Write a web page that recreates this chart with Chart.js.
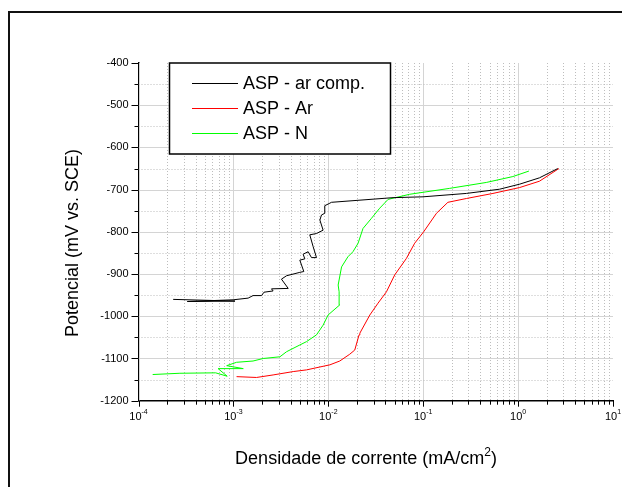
<!DOCTYPE html>
<html>
<head>
<meta charset="utf-8">
<script src="https://cdn.jsdelivr.net/npm/chart.js@4/dist/chart.umd.min.js"></script>
<style>
  html, body { margin: 0; padding: 0; background: #fff; }
</style>
</head>
<body>
<canvas id="chart" width="622" height="487"></canvas>
<script>
// Series labels and colours
const seriesNames = ["ASP - ar comp.", "ASP - Ar", "ASP - N"];
const seriesColors = ["#000000", "#ff0000", "#00ff00"];

// ASP - ar comp. (current density mA/cm2, potential mV)
const arCompX = [2.32e-4, 1.04e-3, 3.27e-4, 9.95e-4, 1.43e-3, 1.61e-3, 1.98e-3, 2.10e-3, 2.62e-3, 2.52e-3,
  3.78e-3, 3.21e-3, 3.63e-3, 5.01e-3, 5.52e-3, 5.01e-3, 5.66e-3, 5.43e-3, 6.13e-3, 6.65e-3,
  7.51e-3, 6.92e-3, 6.38e-3, 7.51e-3, 8.82e-3, 8.15e-3, 8.48e-3, 9.18e-3, 9.18e-3, 1.02e-2,
  1.08e-2, 4.81e-2, 9.95e-2, 0.285, 0.638, 1.04, 1.68, 2.62];
const arCompY = [-960, -964, -965, -961, -957, -951, -951, -943, -940, -935,
  -934, -912, -904, -896, -894, -867, -864, -853, -847, -861,
  -861, -835, -807, -804, -796, -772, -760, -756, -738, -733,
  -730, -719, -717, -709, -699, -687, -672, -650];

// ASP - Ar
const arX = [1.08e-3, 1.75e-3, 2.62e-3, 4.27e-3, 5.9e-3, 1.04e-2, 1.32e-2, 1.68e-2, 1.9e-2, 2.11e-2,
  2.15e-2, 2.74e-2, 3.34e-2, 4.1e-2, 5.01e-2, 6.65e-2, 8.13e-2, 0.101, 0.138, 0.182,
  0.285, 0.543, 1.04, 1.68, 2.69];
const arY = [-1143, -1145, -1139, -1131, -1127, -1115, -1106, -1090, -1080, -1044,
  -1040, -997, -969, -942, -902, -863, -827, -800, -756, -730,
  -721, -709, -695, -680, -650];

// ASP - N
const nX = [1.41e-4, 2.73e-4, 6.5e-4, 8.6e-4, 6.9e-4, 1.27e-3, 8.5e-4, 1.08e-3, 1.61e-3, 2.06e-3,
  3.09e-3, 3.63e-3, 5.01e-3, 5.9e-3, 7.51e-3, 8.82e-3, 9.95e-3, 1.32e-2, 1.30e-2, 1.27e-2,
  1.38e-2, 1.61e-2, 1.82e-2, 2.06e-2, 2.32e-2, 2.85e-2, 3.48e-2, 4.27e-2, 7.21e-2, 0.19,
  0.462, 0.881, 1.30];
const nY = [-1138, -1135, -1134, -1142, -1124, -1124, -1117, -1109, -1106, -1100,
  -1096, -1084, -1068, -1060, -1044, -1021, -997, -973, -942, -926,
  -883, -859, -847, -827, -792, -768, -744, -723, -711, -697,
  -683, -669, -656];

// Axis ranges and tick labels
const xMin = 1e-4, xMax = 10;
const yMin = -1200, yMax = -400;
const xDecades = [-4, -3, -2, -1, 0, 1];
const xTitle = "Densidade de corrente (mA/cm";
const yTitle = "Potencial (mV vs. SCE)";

const toPoints = (xs, ys) => xs.map((v, i) => ({ x: v, y: ys[i] }));
const seriesData = [toPoints(arCompX, arCompY), toPoints(arX, arY), toPoints(nX, nY)];

const FONT = "'Liberation Sans', Arial, sans-serif";

const extras = {
  id: "extras",
  beforeDraw(chart) {
    const ctx = chart.ctx;
    ctx.save();
    ctx.fillStyle = "#fff";
    ctx.fillRect(0, 0, chart.width, chart.height);
    ctx.strokeStyle = "#111";
    ctx.lineWidth = 2;
    ctx.strokeRect(9, 12, chart.width + 20, chart.height + 20);
    ctx.restore();
  },
  beforeDatasetsDraw(chart) {
    const { ctx, chartArea: a, scales: { x, y } } = chart;
    ctx.save();
    ctx.beginPath();
    ctx.rect(a.left, a.top, a.right - a.left, a.bottom - a.top);
    ctx.clip();
    ctx.lineWidth = 1;
    // vertical grid
    for (let d = -4; d <= 0; d++) {
      for (let k = 1; k <= 9; k++) {
        const px = Math.round(x.getPixelForValue(k * Math.pow(10, d))) + 0.5;
        if (k === 1) { ctx.setLineDash([]); ctx.strokeStyle = "#d4d4d4"; }
        else { ctx.setLineDash([1, 2]); ctx.strokeStyle = "#bdbdbd"; }
        ctx.beginPath(); ctx.moveTo(px, a.top); ctx.lineTo(px, a.bottom); ctx.stroke();
      }
    }
    // horizontal grid
    for (let v = yMin + 50; v < yMax; v += 50) {
      const py = Math.round(y.getPixelForValue(v)) + 0.5;
      if (v % 100 === 0) { ctx.setLineDash([]); ctx.strokeStyle = "#d4d4d4"; }
      else { ctx.setLineDash([1, 2]); ctx.strokeStyle = "#bdbdbd"; }
      ctx.beginPath(); ctx.moveTo(a.left, py); ctx.lineTo(a.right, py); ctx.stroke();
    }
    ctx.restore();
  },
  afterDraw(chart) {
    const { ctx, chartArea: a, scales: { x, y } } = chart;
    ctx.save();
    ctx.strokeStyle = "#000";
    ctx.lineWidth = 1;
    // tick marks
    for (let d = -4; d <= 1; d++) {
      for (let k = 1; k <= (d === 1 ? 1 : 9); k++) {
        const px = Math.round(x.getPixelForValue(k * Math.pow(10, d))) + 0.5;
        const len = k === 1 ? 6 : 4;
        ctx.beginPath(); ctx.moveTo(px, a.bottom); ctx.lineTo(px, a.bottom + len); ctx.stroke();
      }
    }
    for (let v = yMin; v <= yMax; v += 50) {
      const py = Math.round(y.getPixelForValue(v)) + 0.5;
      const len = v % 100 === 0 ? 7 : 4;
      ctx.beginPath(); ctx.moveTo(a.left, py); ctx.lineTo(a.left - len, py); ctx.stroke();
    }

    // x tick labels 10^n
    ctx.fillStyle = "#000";
    ctx.textBaseline = "alphabetic";
    ctx.textAlign = "left";
    xDecades.forEach(d => {
      const px = x.getPixelForValue(Math.pow(10, d));
      ctx.font = "11px " + FONT;
      const wBase = ctx.measureText("10").width;
      ctx.font = "7px " + FONT;
      const exp = d < 0 ? "-" + Math.abs(d) : String(d);
      const wExp = ctx.measureText(exp).width;
      const start = px - (wBase + wExp) / 2;
      ctx.font = "11px " + FONT;
      ctx.fillText("10", start, a.bottom + 19);
      ctx.font = "7px " + FONT;
      ctx.fillText(exp, start + wBase, a.bottom + 13);
    });

    // axis titles
    ctx.font = "18px " + FONT;
    const w1 = ctx.measureText(xTitle).width;
    ctx.font = "12px " + FONT;
    const w2 = ctx.measureText("2").width;
    ctx.font = "18px " + FONT;
    const w3 = ctx.measureText(")").width;
    let sx = 366 - (w1 + w2 + w3) / 2;
    ctx.fillText(xTitle, sx, 464);
    ctx.font = "12px " + FONT;
    ctx.fillText("2", sx + w1, 456);
    ctx.font = "18px " + FONT;
    ctx.fillText(")", sx + w1 + w2, 464);

    ctx.save();
    ctx.translate(78, 243);
    ctx.rotate(-Math.PI / 2);
    ctx.textAlign = "center";
    ctx.fillText(yTitle, 0, 0);
    ctx.restore();

    // legend box
    const lx = 169.5, ly = 63, lw = 221, lh = 91;
    ctx.fillStyle = "#fff";
    ctx.fillRect(lx, ly, lw, lh);
    ctx.strokeStyle = "#000";
    ctx.lineWidth = 1.5;
    ctx.strokeRect(lx, ly, lw, lh);
    ctx.font = "18px " + FONT;
    ctx.textBaseline = "middle";
    ctx.textAlign = "left";
    chart.data.datasets.forEach((ds, i) => {
      const ry = 83.5 + i * 25;
      ctx.strokeStyle = ds.borderColor;
      ctx.lineWidth = 1;
      ctx.beginPath(); ctx.moveTo(192, ry); ctx.lineTo(238, ry); ctx.stroke();
      ctx.fillStyle = "#000";
      ctx.fillText(ds.label, 243, ry + 1);
    });
    ctx.restore();
  }
};

const ctx = document.getElementById("chart").getContext("2d");
const chart = new Chart(ctx, {
  type: "scatter",
  data: {
    datasets: seriesNames.map((name, i) => ({
      label: name,
      data: seriesData[i],
      borderColor: seriesColors[i],
      backgroundColor: seriesColors[i],
      borderWidth: 1,
      showLine: true,
      pointRadius: 0,
      tension: 0
    }))
  },
  options: {
    responsive: false,
    animation: false,
    events: [],
    layout: { padding: { top: 63, right: 9, left: 0, bottom: 0 } },
    plugins: { legend: { display: false }, tooltip: { enabled: false } },
    scales: {
      x: {
        type: "logarithmic",
        min: xMin,
        max: xMax,
        grid: { display: false, drawTicks: false },
        border: { display: true, color: "#000", width: 1.5 },
        ticks: { display: false },
        afterFit: s => { s.height = 86.3; }
      },
      y: {
        type: "linear",
        min: yMin,
        max: yMax,
        grid: { display: false, drawTicks: false },
        border: { display: true, color: "#000", width: 1.5 },
        ticks: {
          stepSize: 100,
          padding: 10,
          color: "#000",
          font: { family: FONT, size: 11 },
          callback: v => String(v)
        },
        afterFit: s => { s.width = 138.5; }
      }
    }
  },
  plugins: [extras]
});
</script>
</body>
</html>
